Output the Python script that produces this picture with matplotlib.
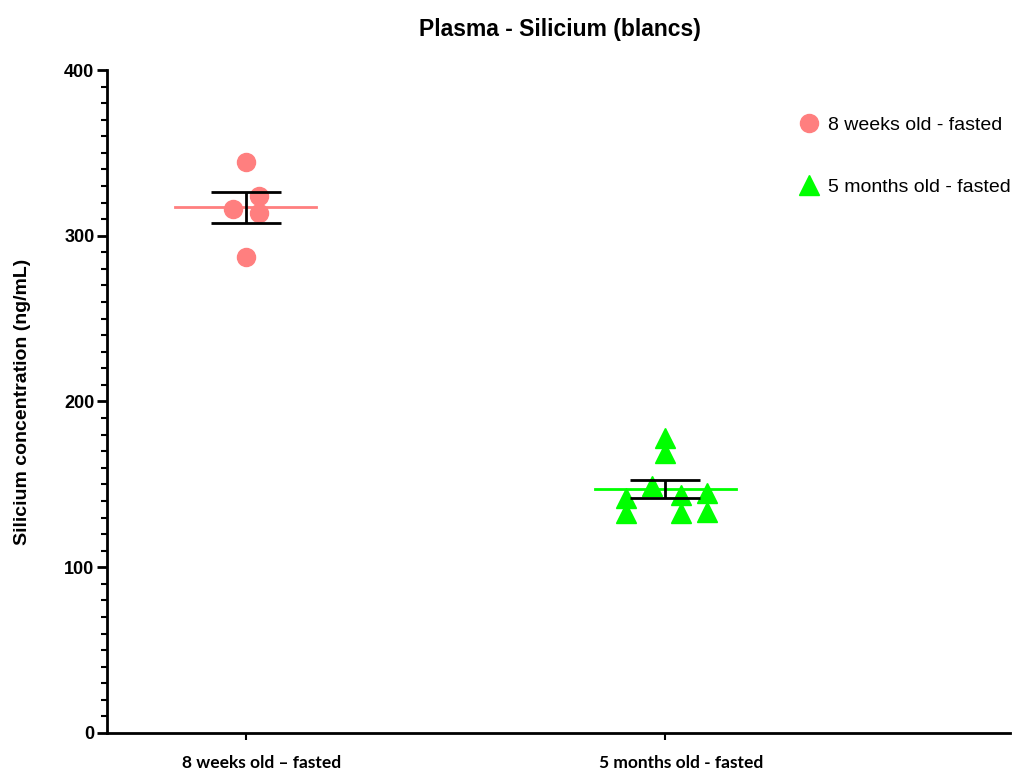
import numpy as np
import matplotlib.pyplot as plt
from matplotlib.ticker import MultipleLocator
from matplotlib.transforms import ScaledTranslation

# data
groups = ['8 weeks old \u2013 fasted', '5 months old - fasted']
legend_names = ['8 weeks old - fasted', '5 months old - fasted']
weeks8 = [344.7, 324.0, 316.0, 313.7, 287.2]
months5 = [178.2, 168.7, 149.0, 141.6, 132.5, 143.6, 132.5, 144.6, 133.5]

# horizontal scatter of points inside each column
jit8 = [0.0, 0.033, -0.031, 0.033, 0.0]
jit5 = [0.0, 0.0, -0.033, -0.095, -0.095, 0.036, 0.036, 0.098, 0.098]

colors = ['#FF7F7F', '#00FF00']
markers = ['o', '^']

fig = plt.figure(figsize=(10.2, 7.71), dpi=100)
ax = fig.add_axes([0.1049, 0.0493, 0.885, 0.8599])

for i, (vals, jit) in enumerate([(weeks8, jit8), (months5, jit5)]):
    vals = np.array(vals)
    xs = i + np.array(jit)
    ms = 13 if markers[i] == 'o' else 14
    ax.plot(xs, vals, linestyle='none', marker=markers[i], color=colors[i],
            markersize=ms, label=legend_names[i], zorder=3)
    m = vals.mean()
    sem = vals.std(ddof=1) / np.sqrt(len(vals))
    ax.plot([i - 0.167, i + 0.167], [m, m], color=colors[i], lw=2, zorder=4)
    ax.errorbar(i, m, yerr=sem, color='black', capsize=35 * 0.72, capthick=2,
                elinewidth=2, zorder=5)

ax.set_xlim(-0.33, 1.82)
ax.set_ylim(0, 400)
ax.set_xticks([0, 1])
ax.set_xticklabels(groups, fontsize=12.5, fontweight='bold', family=['Lato', 'DejaVu Sans'])
ax.yaxis.set_major_locator(MultipleLocator(100))
ax.yaxis.set_minor_locator(MultipleLocator(10))

for s in ['top', 'right']:
    ax.spines[s].set_visible(False)
ax.spines['left'].set_linewidth(2)
ax.spines['bottom'].set_linewidth(2)
ax.tick_params(axis='y', which='major', length=7, width=2, pad=2, labelsize=13)
ax.tick_params(axis='y', which='minor', length=4, width=1.5)
ax.tick_params(axis='x', length=5, width=1.5, pad=11)
for t in ax.get_yticklabels():
    t.set_fontweight('bold')
    t.set_family(['Liberation Sans', 'DejaVu Sans'])
for t in ax.get_xticklabels():
    t.set_transform(t.get_transform() + ScaledTranslation(0.16, 0, fig.dpi_scale_trans))

ax.set_ylabel('Silicium concentration (ng/mL)', fontsize=14, fontweight='bold',
              family=['Liberation Sans', 'DejaVu Sans'], labelpad=24)
fig.suptitle('Plasma - Silicium (blancs)', x=0.549, y=0.977, fontsize=16.5,
             fontweight='bold', family=['Liberation Sans', 'DejaVu Sans'])

ax.legend(loc='upper left', bbox_to_anchor=(0.745, 0.957), frameon=False,
          prop={'family': ['Liberation Sans', 'DejaVu Sans'], 'size': 14},
          labelspacing=2.3, handletextpad=0.4, handlelength=1.2)

fig.savefig('out.png', dpi=100)
